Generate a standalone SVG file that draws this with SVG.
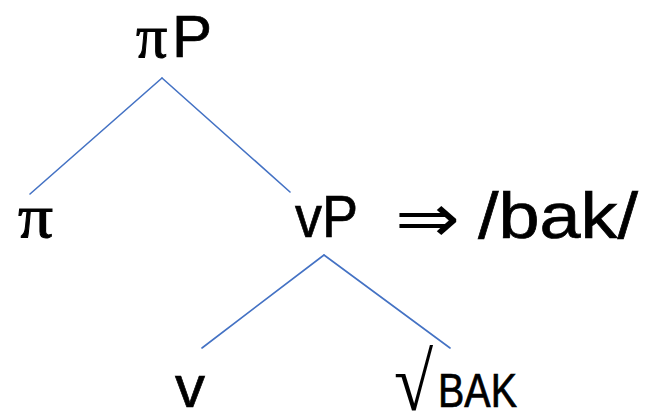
<svg xmlns="http://www.w3.org/2000/svg" width="646" height="416" viewBox="0 0 646 416">
<style>
.lbl{font-family:"Liberation Sans","DejaVu Sans",sans-serif;fill:#000;stroke:#000;stroke-width:0.7;}
.pi{font-family:"Liberation Serif","DejaVu Serif",serif;fill:#000;stroke:#000;stroke-width:1;}
.sym{font-family:"DejaVu Sans",sans-serif;fill:#000;}
.root{font-family:"Liberation Serif","DejaVu Serif",serif;fill:#000;}
.edge{stroke:#4472C4;stroke-width:1.6;fill:none;stroke-linecap:round;}
</style>
<rect width="646" height="416" fill="#fff"/>
<g id="connectors">
<line class="edge" x1="162" y1="78" x2="30" y2="194"/>
<line class="edge" x1="162" y1="78" x2="290" y2="192"/>
<line class="edge" x1="324" y1="255" x2="202" y2="348"/>
<line class="edge" x1="324" y1="255" x2="450" y2="348"/>
</g>
<g id="piP"><text x="136" y="57" font-size="60"><tspan class="pi" x="136" font-size="62">π</tspan><tspan class="lbl" x="172" font-size="60">P</tspan></text></g>
<g id="pi"><text class="pi" x="18" y="237" font-size="62" textLength="35" lengthAdjust="spacingAndGlyphs">π</text></g>
<g id="vP"><text class="lbl" x="295" y="237" font-size="60" textLength="63" lengthAdjust="spacingAndGlyphs">vP</text>
<text class="sym" x="395" y="242" font-size="68" textLength="65" lengthAdjust="spacingAndGlyphs">⇒</text>
<text class="lbl" x="478" y="238" font-size="64" stroke-width="0.3" textLength="160" lengthAdjust="spacingAndGlyphs">/bak/</text></g>
<g id="v"><text class="lbl" x="175" y="407" font-size="60" textLength="30" lengthAdjust="spacingAndGlyphs">v</text></g>
<g id="rootBAK"><text class="root" transform="translate(394 410) scale(1.15 1.32)" x="0" y="0" font-size="62">√</text>
<text class="lbl" x="438" y="407" font-size="49" textLength="79" lengthAdjust="spacingAndGlyphs">BAK</text></g>
</svg>
